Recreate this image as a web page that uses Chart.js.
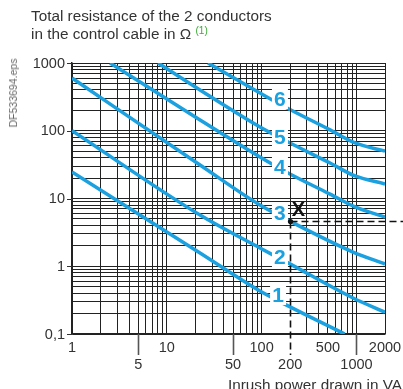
<!DOCTYPE html>
<html><head><meta charset="utf-8">
<script src="https://cdn.jsdelivr.net/npm/chart.js@4/dist/chart.umd.min.js"></script>
<style>
html,body{margin:0;padding:0;background:#fff;}
#wrap{position:relative;width:403px;height:389px;overflow:hidden;font-family:"Liberation Sans",Arial,Helvetica,sans-serif;color:#333;}
canvas{position:absolute;left:0;top:0;}
.t{position:absolute;white-space:nowrap;}
</style></head><body>
<div id="wrap">
<canvas id="c" width="403" height="389"></canvas>
<div class="t" style="left:31px;top:7px;font-size:15.3px;line-height:18px;">Total resistance of the 2 conductors<br>in the control cable in Ω <span style="color:#3aaa35;font-size:10px;position:relative;top:-5px;">(1)</span></div>
<div class="t" style="left:13px;top:93px;font-size:10.5px;color:#666;transform:translate(-50%,-50%) rotate(-90deg);">DF533694.eps</div>
<div class="t" style="right:1px;top:375.5px;font-size:15.3px;line-height:17px;">Inrush power drawn in VA</div>
</div>
<script>
// ---- data ----
const power1 = [1, 22.4, 96, 190, 750];
const resist1 = [24.6, 1.57, 0.43, 0.26, 0.1];
const power2 = [1, 22.4, 96, 190, 920, 2000];
const resist2 = [100, 5.7, 1.86, 1.12, 0.34, 0.21];
const power3 = [1, 22.4, 96, 200, 920, 2000];
const resist3 = [600, 31.2, 8.0, 4.6, 1.62, 1.08];
const power4 = [2.52, 22.4, 96, 190, 527, 967, 2000];
const resist4 = [1000, 144, 41, 23.8, 11.6, 7.5, 5.33];
const power5 = [8.08, 22.4, 96, 190, 527, 967, 2000];
const resist5 = [1000, 399, 113.6, 68.2, 33.4, 21.5, 16.4];
const power6 = [27.2, 96, 177, 527, 967, 2000];
const resist6 = [1000, 361, 224, 103, 66, 50];

const curveNames = ['1', '2', '3', '4', '5', '6'];
const labelPower = [149, 156, 156, 156, 156, 156];
const labelResist = [0.377, 1.37, 6.1, 29.2, 80.9, 294];

const examplePower = 200;
const exampleResist = 4.6;
const exampleName = 'X';

const xTickRow1 = [1, 10, 100, 500, 2000];
const xTickRow2 = [5, 50, 200, 1000];
const xLongTicks = [5, 50, 1000];
const yTickLabels = [0.1, 1, 10, 100, 1000];

// ---- build ----
const powers = [power1, power2, power3, power4, power5, power6];
const resists = [resist1, resist2, resist3, resist4, resist5, resist6];
const BLUE = '#1ba0e0';
const FONT = '"Liberation Sans", Arial, Helvetica, sans-serif';

function logGrid(min, max) {
  const out = [];
  for (let e = -3; e <= 4; e++) {
    for (let m = 1; m <= 9; m++) {
      const v = +(m * Math.pow(10, e)).toPrecision(6);
      if (v >= min - 1e-9 && v <= max + 1e-9) out.push(v);
    }
  }
  return out;
}
const xGrid = logGrid(1, 2000);
const yGrid = logGrid(0.1, 1000);

const datasets = powers.map((p, i) => ({
  label: curveNames[i],
  data: p.map((v, j) => ({ x: v, y: resists[i][j] })),
  borderColor: BLUE,
  borderWidth: 3.5,
  pointRadius: 0,
  fill: false,
  cubicInterpolationMode: 'monotone'
}));

const fmt = v => String(v).replace('.', ',');

const overlay = {
  id: 'overlay',
  afterDatasetsDraw(chart) {
    const { ctx, scales: { x, y }, chartArea: a } = chart;
    ctx.save();
    const px = Math.round(x.getPixelForValue(examplePower)) + 0.5;
    const py = Math.round(y.getPixelForValue(exampleResist)) + 0.5;
    ctx.strokeStyle = '#222';
    ctx.lineWidth = 1;
    ctx.beginPath(); ctx.moveTo(px, a.top); ctx.lineTo(px, py); ctx.stroke();
    ctx.strokeStyle = '#111';
    ctx.setLineDash([7, 4]);
    ctx.lineWidth = 1.6;
    ctx.beginPath(); ctx.moveTo(px, py); ctx.lineTo(px, a.bottom + 21); ctx.stroke();
    ctx.beginPath(); ctx.moveTo(px, py); ctx.lineTo(chart.width, py); ctx.stroke();
    ctx.setLineDash([]);
    ctx.strokeStyle = '#555';
    ctx.lineWidth = 1.6;
    xLongTicks.forEach(v => {
      const xx = Math.round(x.getPixelForValue(v)) + 0.5;
      ctx.beginPath(); ctx.moveTo(xx, a.bottom); ctx.lineTo(xx, a.bottom + 21); ctx.stroke();
    });
    ctx.strokeStyle = '#333';
    ctx.lineWidth = 1;
    yTickLabels.forEach(v => {
      const yy = Math.round(y.getPixelForValue(v)) + 0.5;
      ctx.beginPath(); ctx.moveTo(a.left - 5, yy); ctx.lineTo(a.left, yy); ctx.stroke();
    });
    ctx.fillStyle = '#333';
    ctx.font = '14.5px ' + FONT;
    ctx.textAlign = 'right'; ctx.textBaseline = 'middle';
    yTickLabels.forEach(v => ctx.fillText(fmt(v), a.left - 7, y.getPixelForValue(v) + 0.5));
    ctx.textAlign = 'center';
    xTickRow1.forEach(v => ctx.fillText(fmt(v), x.getPixelForValue(v), a.bottom + 14));
    xTickRow2.forEach(v => ctx.fillText(fmt(v), x.getPixelForValue(v), a.bottom + 31));
    ctx.font = 'bold 21px ' + FONT;
    curveNames.forEach((n, i) => {
      const lx = x.getPixelForValue(labelPower[i]);
      const ly = y.getPixelForValue(labelResist[i]);
      ctx.fillStyle = '#fff';
      ctx.fillRect(lx - 8, ly - 10, 16, 20);
      ctx.fillStyle = BLUE;
      ctx.fillText(n, lx, ly + 1);
    });
    ctx.fillStyle = '#111';
    ctx.beginPath(); ctx.arc(px, py, 2.6, 0, Math.PI * 2); ctx.fill();
    ctx.font = 'bold 20px ' + FONT;
    ctx.fillText(exampleName, px + 8, py - 11);
    ctx.restore();
  }
};

const gridColor = ctx => {
  const v = ctx.tick && ctx.tick.value;
  if (ctx.scale.axis === 'x' && Math.abs(v - examplePower) < 1e-6) return 'rgba(0,0,0,0)';
  return '#222';
};

new Chart(document.getElementById('c'), {
  type: 'line',
  data: { datasets },
  options: {
    responsive: false,
    animation: false,
    devicePixelRatio: 1,
    layout: { padding: { left: 72, right: 18, top: 63, bottom: 55 } },
    plugins: { legend: { display: false }, tooltip: { enabled: false } },
    scales: {
      x: {
        type: 'logarithmic', min: 1, max: 2000,
        afterBuildTicks: s => { s.ticks = xGrid.map(v => ({ value: v })); },
        ticks: { display: false },
        grid: { color: gridColor, lineWidth: 1, drawTicks: false },
        border: { color: '#222', width: 1.5 }
      },
      y: {
        type: 'logarithmic', min: 0.1, max: 1000,
        afterBuildTicks: s => { s.ticks = yGrid.map(v => ({ value: v })); },
        ticks: { display: false },
        grid: { color: gridColor, lineWidth: 1, drawTicks: false },
        border: { color: '#222', width: 1.5 }
      }
    }
  },
  plugins: [overlay]
});
</script>
</body></html>
